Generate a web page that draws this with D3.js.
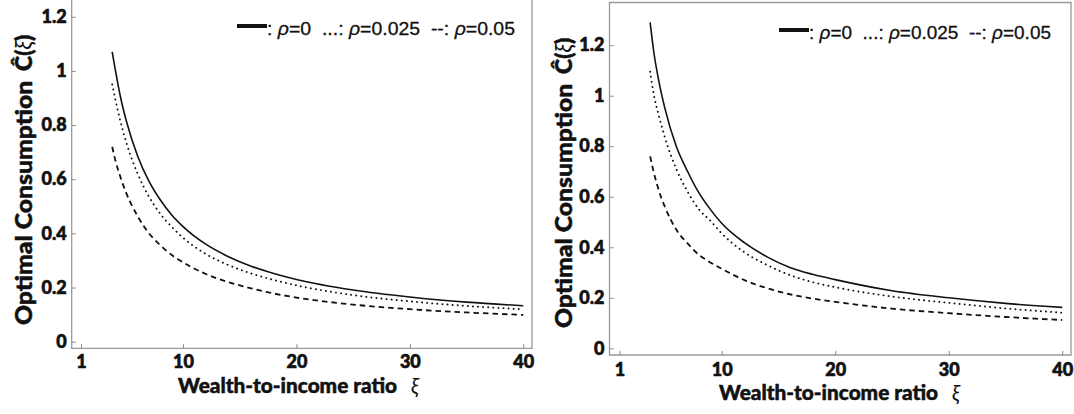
<!DOCTYPE html>
<html>
<head>
<meta charset="utf-8">
<script src="https://cdn.jsdelivr.net/npm/d3@7"></script>
<style>
  html, body { margin: 0; padding: 0; background: #fff; }
  svg { display: block; }
  .tick line { stroke: #888; stroke-width: 1; }
  .frame { fill: none; stroke: #999; stroke-width: 1.3; }
  .title { font-family: Lato, "Open Sans", sans-serif; font-weight: 900; fill: #111; stroke: #111; stroke-width: 0.5px; }
  .legend { font-family: "Liberation Sans", Arial, sans-serif; font-size: 19px; fill: #111; stroke: #111; stroke-width: 0.3px; }
  .curve { fill: none; stroke: #111; }
</style>
</head>
<body>
<svg id="chart" width="1074" height="414"></svg>
<script>
// wealth-to-income ratio grid where values were read
const xiLeft = [3.75, 4, 4.5, 5, 6, 7, 8, 9, 10, 12, 14, 16, 18, 20, 25, 30, 35, 40];
const leftRho0    = [1.07, 1.01, 0.90, 0.815, 0.685, 0.592, 0.523, 0.468, 0.425, 0.360, 0.314, 0.279, 0.252, 0.230, 0.191, 0.165, 0.146, 0.133];
const leftRho025  = [0.95, 0.90, 0.81, 0.735, 0.62, 0.535, 0.472, 0.424, 0.384, 0.324, 0.283, 0.252, 0.228, 0.208, 0.172, 0.149, 0.132, 0.120];
const leftRho05   = [0.72, 0.675, 0.605, 0.548, 0.463, 0.40, 0.356, 0.32, 0.293, 0.25, 0.22, 0.197, 0.178, 0.163, 0.137, 0.120, 0.108, 0.099];

const xiRight = [3.7, 4, 4.5, 5, 6, 7, 8, 9, 10, 12, 14, 16, 18, 20, 25, 30, 35, 40];
const rightRho0   = [1.29, 1.18, 1.05, 0.95, 0.80, 0.70, 0.615, 0.55, 0.495, 0.418, 0.362, 0.320, 0.293, 0.272, 0.228, 0.200, 0.178, 0.162];
const rightRho025 = [1.095, 1.01, 0.915, 0.835, 0.71, 0.62, 0.55, 0.505, 0.455, 0.38, 0.33, 0.29, 0.262, 0.242, 0.205, 0.180, 0.158, 0.141];
const rightRho05  = [0.76, 0.70, 0.62, 0.56, 0.47, 0.415, 0.37, 0.34, 0.315, 0.27, 0.238, 0.214, 0.197, 0.184, 0.157, 0.139, 0.124, 0.112];

const xTicks = [1, 10, 20, 30, 40];
const yTicks = [0, 0.2, 0.4, 0.6, 0.8, 1, 1.2];
const xLabel = 'Wealth-to-income ratio';
const yLabel = 'Optimal Consumption';

const styles = [
  { width: 1.6, dash: null },
  { width: 1.9, dash: '0.1,5' },
  { width: 1.8, dash: '5.5,4' }
];

const panels = [
  { x0: 71.7, x1: 532, y0: 348.3, y1: 0, xd: [0.18, 40.77], yd: [-0.0244, 1.2618], topLine: false,
    xi: xiLeft, series: [leftRho0, leftRho025, leftRho05],
    xPad: 6.7, yTitleX: 32, yTitleY: 325, legX: 237, legY: 35, legW: 248, xTitleX: 178, xTitleY: 393 },
  { x0: 609.5, x1: 1071, y0: 355, y1: 2.5, xd: [0.12, 40.77], yd: [-0.0265, 1.369], topLine: true,
    xi: xiRight, series: [rightRho0, rightRho025, rightRho05],
    xPad: 8, yTitleX: 572, yTitleY: 328, legX: 779, legY: 39, legW: 242, xTitleX: 719, xTitleY: 400 }
];

const svg = d3.select('#chart');

function tickText(a) {
  a.select('.domain').remove();
  a.selectAll('text')
    .style('font-family', 'Lato, "Open Sans", sans-serif')
    .style('font-weight', 900)
    .style('font-size', '18px')
    .style('fill', '#111')
    .style('stroke', '#111')
    .style('stroke-width', '0.6px');
}

panels.forEach(p => {
  const x = d3.scaleLinear().domain(p.xd).range([p.x0, p.x1]);
  const y = d3.scaleLinear().domain(p.yd).range([p.y0, p.y1]);
  const g = svg.append('g');

  // frame
  const fr = g.append('path').attr('class', 'frame');
  if (p.topLine) {
    fr.attr('d', `M${p.x0},${p.y0}V${p.y1}H${p.x1}V${p.y0}Z`);
  } else {
    fr.attr('d', `M${p.x0},${p.y1}V${p.y0}H${p.x1}V${p.y1}`);
  }

  g.append('g')
    .attr('transform', `translate(${p.x0},0)`)
    .call(d3.axisLeft(y).tickValues(yTicks).tickFormat(d3.format('~g')).tickSizeInner(-4).tickSizeOuter(0).tickPadding(5))
    .call(tickText);

  g.append('g')
    .attr('transform', `translate(0,${p.y0})`)
    .call(d3.axisBottom(x).tickValues(xTicks).tickSizeInner(-4).tickSizeOuter(0).tickPadding(p.xPad))
    .call(tickText);

  // curves
  const line = d3.line().curve(d3.curveMonotoneX).x(d => x(d[0])).y(d => y(d[1]));
  p.series.forEach((vals, i) => {
    const pts = p.xi.map((xi, j) => [xi, vals[j]]);
    g.append('path').attr('class', 'curve')
      .attr('d', line(pts))
      .attr('stroke-width', styles[i].width)
      .attr('stroke-linecap', i === 1 ? 'round' : 'butt')
      .attr('stroke-dasharray', styles[i].dash);
  });

  // x title
  const xt = g.append('text').attr('class', 'title')
    .attr('x', p.xTitleX).attr('y', p.xTitleY).style('font-size', '21px');
  xt.append('tspan').attr('textLength', 219).attr('lengthAdjust', 'spacingAndGlyphs').text(xLabel);
  xt.append('tspan').attr('dx', 14).style('font-style', 'italic').style('font-weight', 400).style('stroke-width', 0).text('ξ');

  // y title
  const yt = g.append('text').attr('class', 'title')
    .attr('transform', `translate(${p.yTitleX},${p.yTitleY}) rotate(-90)`)
    .style('font-size', '23px');
  yt.append('tspan').attr('textLength', 244).attr('lengthAdjust', 'spacingAndGlyphs').text(yLabel);
  yt.append('tspan').attr('dx', 10).text('Ĉ(');
  yt.append('tspan').style('font-style', 'italic').style('font-weight', 400).style('stroke-width', 0).text('ξ');
  yt.append('tspan').text(')');

  // legend
  g.append('rect').attr('x', p.legX).attr('y', p.legY - 11).attr('width', 30).attr('height', 4).attr('fill', '#111');
  const lt = g.append('text').attr('class', 'legend').attr('x', p.legX + 30).attr('y', p.legY)
    .attr('xml:space', 'preserve')
    .attr('textLength', p.legW).attr('lengthAdjust', 'spacingAndGlyphs');
  const parts = [[': ', 'ρ', '=0'], ['  ...: ', 'ρ', '=0.025'], ['  --: ', 'ρ', '=0.05']];
  parts.forEach(pt => {
    lt.append('tspan').text(pt[0]);
    lt.append('tspan').style('font-style', 'italic').text(pt[1]);
    lt.append('tspan').text(pt[2]);
  });
});
</script>
</body>
</html>
